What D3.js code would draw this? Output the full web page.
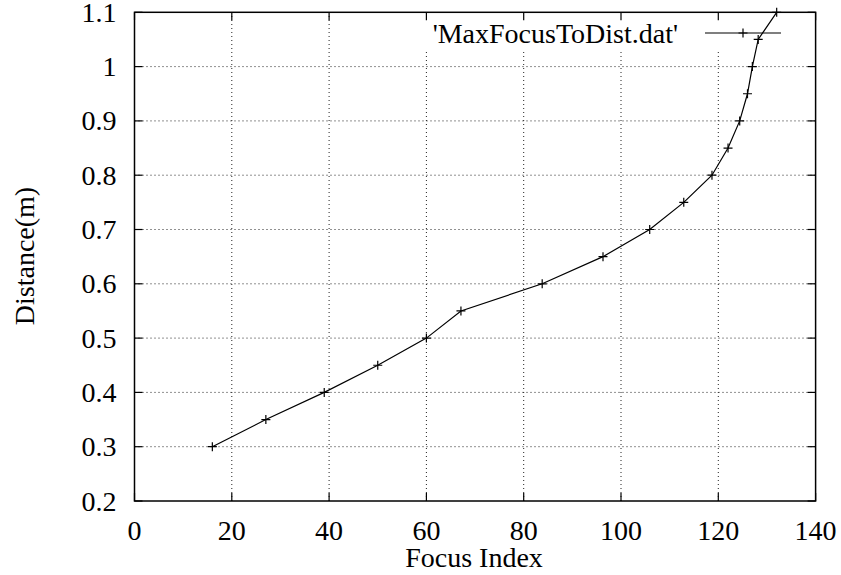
<!DOCTYPE html>
<html>
<head>
<meta charset="utf-8">
<script src="https://cdn.jsdelivr.net/npm/d3@7"></script>
<style>
  body { margin: 0; background: #fff; }
  svg { display: block; }
</style>
</head>
<body>
<svg id="chart" width="841" height="575"></svg>
<script>
// Focus index -> distance, one series from MaxFocusToDist.dat
const focusIndex = [16, 27, 39, 50, 60, 67.1, 83.8, 96.3, 105.9, 112.9, 118.7, 122, 124.4, 126, 127, 128.2, 132];
const distance   = [0.3, 0.35, 0.4, 0.45, 0.5, 0.55, 0.6, 0.65, 0.7, 0.75, 0.8, 0.85, 0.9, 0.95, 1.0, 1.05, 1.1];
const xTicks = [0, 20, 40, 60, 80, 100, 120, 140];
const yTicks = [0.2, 0.3, 0.4, 0.5, 0.6, 0.7, 0.8, 0.9, 1, 1.1];
const seriesName = "'MaxFocusToDist.dat'";

const W = 841, H = 575;
const L = 134.5, R = 815.6, T = 12.3, B = 501;
const TICK = 8;
const FONT = "28px 'Liberation Serif', 'Times New Roman', 'DejaVu Serif', serif";

const svg = d3.select("#chart");
const x = d3.scaleLinear().domain([0, 140]).range([L, R]);
const y = d3.scaleLinear().domain([0.2, 1.1]).range([B, T]);

const data = focusIndex.map((f, i) => ({ f, d: distance[i] }));

// grid (inner ticks only)
const grid = svg.append("g")
  .attr("stroke", "#222").attr("stroke-width", 1).attr("stroke-dasharray", "1 3");
grid.selectAll("line.gx").data(xTicks.slice(1, -1)).enter().append("line")
  .attr("x1", x).attr("x2", x).attr("y1", B).attr("y2", T);
grid.selectAll("line.gy").data(yTicks.slice(1, -1)).enter().append("line")
  .attr("y1", y).attr("y2", y).attr("x1", L).attr("x2", R);

// legend box blanks the grid behind it
svg.append("rect").attr("x", 418).attr("y", T + 1).attr("width", 372).attr("height", 37)
  .attr("fill", "#fff");

// ticks on all four sides, pointing in
const ticks = svg.append("g").attr("stroke", "#000").attr("stroke-width", 1.2);
xTicks.forEach((t) => {
  ticks.append("line").attr("x1", x(t)).attr("x2", x(t)).attr("y1", B).attr("y2", B - TICK);
  ticks.append("line").attr("x1", x(t)).attr("x2", x(t)).attr("y1", T).attr("y2", T + TICK);
});
yTicks.forEach((t) => {
  ticks.append("line").attr("y1", y(t)).attr("y2", y(t)).attr("x1", L).attr("x2", L + TICK);
  ticks.append("line").attr("y1", y(t)).attr("y2", y(t)).attr("x1", R).attr("x2", R - TICK);
});

// frame
svg.append("rect").attr("x", L).attr("y", T).attr("width", R - L).attr("height", B - T)
  .attr("fill", "none").attr("stroke", "#000").attr("stroke-width", 1.5);

// tick labels
svg.append("g").selectAll("text").data(xTicks).enter().append("text")
  .attr("x", x).attr("y", B + 39).attr("text-anchor", "middle")
  .style("font", FONT).style("fill", "#000").text((d) => d);
svg.append("g").selectAll("text").data(yTicks).enter().append("text")
  .attr("x", L - 18).attr("y", (d) => y(d)).attr("dy", "0.34em").attr("text-anchor", "end")
  .style("font", FONT).style("fill", "#000").text((d) => d);

// axis titles
svg.append("text").attr("x", 474).attr("y", 567).attr("text-anchor", "middle")
  .style("font", FONT).style("fill", "#000").text("Focus Index");
svg.append("text").attr("transform", "translate(34,256) rotate(-90)").attr("text-anchor", "middle")
  .style("font", FONT).style("fill", "#000").text("Distance(m)");

// series
const line = d3.line().x((d) => x(d.f)).y((d) => y(d.d));
svg.append("path").datum(data).attr("d", line)
  .attr("fill", "none").attr("stroke", "#000").attr("stroke-width", 1.2);

const PS = 4.5;
const plus = (cx, cy) => `M${cx - PS},${cy}H${cx + PS}M${cx},${cy - PS}V${cy + PS}`;
svg.append("g").selectAll("path").data(data).enter().append("path")
  .attr("d", (d) => plus(x(d.f), y(d.d)))
  .attr("stroke", "#000").attr("stroke-width", 1.2);

// legend
svg.append("text").attr("x", 678).attr("y", 43).attr("text-anchor", "end")
  .style("font", FONT).style("fill", "#000").text(seriesName);
svg.append("line").attr("x1", 705).attr("x2", 781).attr("y1", 33).attr("y2", 33)
  .attr("stroke", "#000").attr("stroke-width", 1.2);
svg.append("path").attr("d", plus(743, 33)).attr("stroke", "#000").attr("stroke-width", 1.2);
</script>
</body>
</html>
